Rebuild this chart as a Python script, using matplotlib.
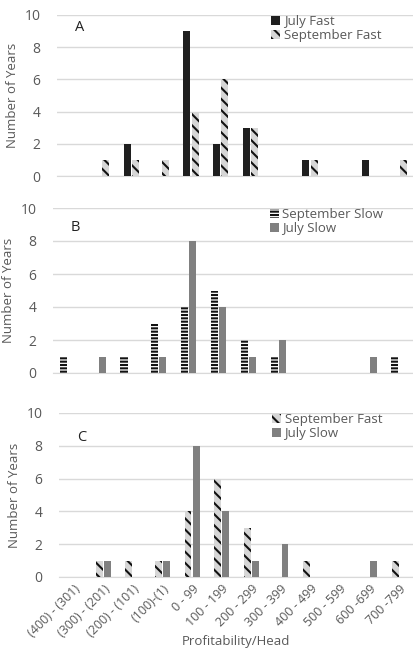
import matplotlib
matplotlib.use("Agg")
import matplotlib.pyplot as plt
import numpy as np

categories = ["(400) - (301)", "(300) - (201)", "(200) - (101)", "(100)-(1)", "0 - 99",
              "100 - 199", "200 - 299", "300 - 399", "400 - 499", "500 - 599",
              "600 -699", "700 -799"]
july_fast = [0, 0, 2, 0, 9, 2, 3, 0, 1, 0, 1, 0]
sept_fast = [0, 1, 1, 1, 4, 6, 3, 0, 1, 0, 0, 1]
sept_slow = [1, 0, 1, 3, 4, 5, 2, 1, 0, 0, 0, 1]
july_slow = [0, 1, 0, 1, 8, 4, 1, 2, 0, 0, 1, 0]
yticks = [0, 2, 4, 6, 8, 10]

plt.rcParams['font.family'] = ['Open Sans', 'DejaVu Sans']
plt.rcParams['hatch.linewidth'] = 1.5

TXT = '#595959'
GRID = '#d9d9d9'

fig = plt.figure(figsize=(4.14, 6.51), dpi=100)
W, H = 414, 651

def mkax(left, top, bottom):
    return fig.add_axes([left / W, 1 - bottom / H, (W - left) / W, (bottom - top) / H])

axA = mkax(57, 15, 176)
axB = mkax(53, 208, 373)
axC = mkax(59, 413, 577)

x = np.arange(len(categories))
bw = 0.235
off = 0.14

styles = {
    'July Fast': dict(color='#1f1f1f', edgecolor='#1f1f1f', linewidth=0),
    'September Fast': dict(color='#d6d6d6', edgecolor='#111111', hatch='\\\\\\', linewidth=0),
    'September Slow': dict(color='white', edgecolor='#111111', hatch='-----', linewidth=0),
    'July Slow': dict(color='#808080', edgecolor='#808080', linewidth=0),
}

panels = [
    (axA, 'A', [('July Fast', july_fast), ('September Fast', sept_fast)], 0.92),
    (axB, 'B', [('September Slow', sept_slow), ('July Slow', july_slow)], 0.88),
    (axC, 'C', [('September Fast', sept_fast), ('July Slow', july_slow)], 0.85),
]

for ax, letter, series, ly in panels:
    for i, (name, vals) in enumerate(series):
        pos = x - off if i == 0 else x + off
        ax.bar(pos, vals, bw, label=name, zorder=3, **styles[name])
    ax.set_ylim(0, 10)
    ax.set_xlim(-0.5, len(categories) - 0.5)
    ax.set_yticks(yticks)
    ax.yaxis.grid(True, color=GRID, linewidth=1, zorder=0)
    ax.set_axisbelow(True)
    for s in ['top', 'right', 'left']:
        ax.spines[s].set_visible(False)
    ax.spines['bottom'].set_color(GRID)
    ax.tick_params(axis='y', length=0, colors=TXT, labelsize=10, pad=12)
    ax.tick_params(axis='x', length=0, colors=TXT, labelsize=9)
    ax.set_ylabel('Number of Years', color=TXT, fontsize=9.5, labelpad=4)
    ax.text(0.05, ly, letter, transform=ax.transAxes, fontsize=10.5, color='#222222',
            va='center', ha='left')
    leg = ax.legend(loc='upper left', bbox_to_anchor=(0.6, 1.0), frameon=False,
                    fontsize=9.5, handlelength=0.7, handleheight=0.7, handletextpad=0.25,
                    labelspacing=0.1, borderpad=0, borderaxespad=0)
    for t in leg.get_texts():
        t.set_color(TXT)

axA.set_xticks(x)
axA.set_xticklabels([])
axB.set_xticks(x)
axB.set_xticklabels([])
axC.set_xticks(x)
axC.set_xticklabels(categories, rotation=45, ha='right', rotation_mode='anchor')
axC.tick_params(axis='x', pad=4)
fig.text(236 / W, 1 - 642 / H, 'Profitability/Head', color=TXT, fontsize=9.5,
         ha='center', va='center')

fig.savefig('out.png', dpi=100)
